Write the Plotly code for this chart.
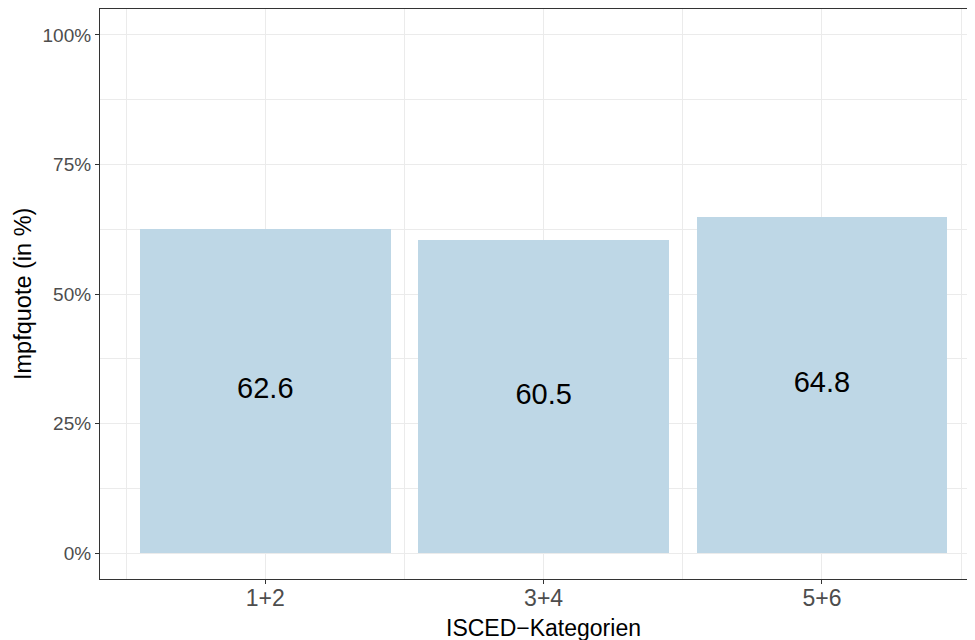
import plotly.graph_objects as go

categories = ["1+2", "3+4", "5+6"]
impfquote = [62.6, 60.5, 64.8]
y_tickvals = [0, 25, 50, 75, 100]
y_ticktext = ["0%", "25%", "50%", "75%", "100%"]

xpos = list(range(1, len(categories) + 1))
label_pos = [v / 2 for v in impfquote]

FONT = "Liberation Sans, Arial, sans-serif"
GRID = "#EBEBEB"

fig = go.Figure()
fig.add_trace(go.Bar(
    x=xpos, y=impfquote, width=0.9,
    marker=dict(color="#BED7E6", line=dict(width=0)),
    hoverinfo="skip", showlegend=False,
))
fig.add_trace(go.Scatter(
    x=xpos, y=label_pos, mode="text",
    text=[f"{v:.1f}" for v in impfquote],
    textfont=dict(family=FONT, size=29, color="black"),
    textposition="middle center", showlegend=False, hoverinfo="skip",
))

fig.update_layout(
    width=967, height=632,
    margin=dict(l=92, r=0, t=1, b=61.4, autoexpand=False),
    paper_bgcolor="white", plot_bgcolor="white",
    font=dict(family=FONT),
    bargap=0,
    annotations=[
        dict(text="ISCED\u2212Kategorien", xref="x", x=2, yref="paper", y=0,
             yshift=-49, xanchor="center", yanchor="middle", showarrow=False,
             font=dict(family=FONT, size=23, color="black")),
        dict(text="Impfquote (in %)", xref="paper", x=0, xshift=-77, yref="paper", y=0.5,
             xanchor="center", yanchor="middle", textangle=-90, showarrow=False,
             font=dict(family=FONT, size=23.5, color="black")),
    ],
)
fig.update_xaxes(
    range=[0.406, 3.55], tickmode="array", tickvals=xpos, ticktext=categories,
    showgrid=True, gridcolor=GRID, gridwidth=1.1,
    minor=dict(tickmode="array", tickvals=[0.5, 1.5, 2.5, 3.5], showgrid=True,
               gridcolor=GRID, gridwidth=0.6, ticks=""),
    showline=True, linecolor="#333333", linewidth=1.1, mirror=True,
    ticks="outside", ticklen=4, tickcolor="#333333", tickwidth=1.1,
    ticklabelstandoff=-6,
    tickfont=dict(family=FONT, size=23, color="#4D4D4D"),
    automargin=False, zeroline=False,
)
fig.update_yaxes(
    range=[-5, 105], tickmode="array", tickvals=y_tickvals, ticktext=y_ticktext,
    showgrid=True, gridcolor=GRID, gridwidth=1.1,
    minor=dict(tickmode="array", tickvals=[12.5, 37.5, 62.5, 87.5], showgrid=True,
               gridcolor=GRID, gridwidth=0.6, ticks=""),
    showline=True, linecolor="#333333", linewidth=1.1, mirror=False,
    ticks="outside", ticklen=4, tickcolor="#333333", tickwidth=1.1,
    tickfont=dict(family=FONT, size=19, color="#4D4D4D"),
    automargin=False, zeroline=False,
)

fig.write_html("out.html")
